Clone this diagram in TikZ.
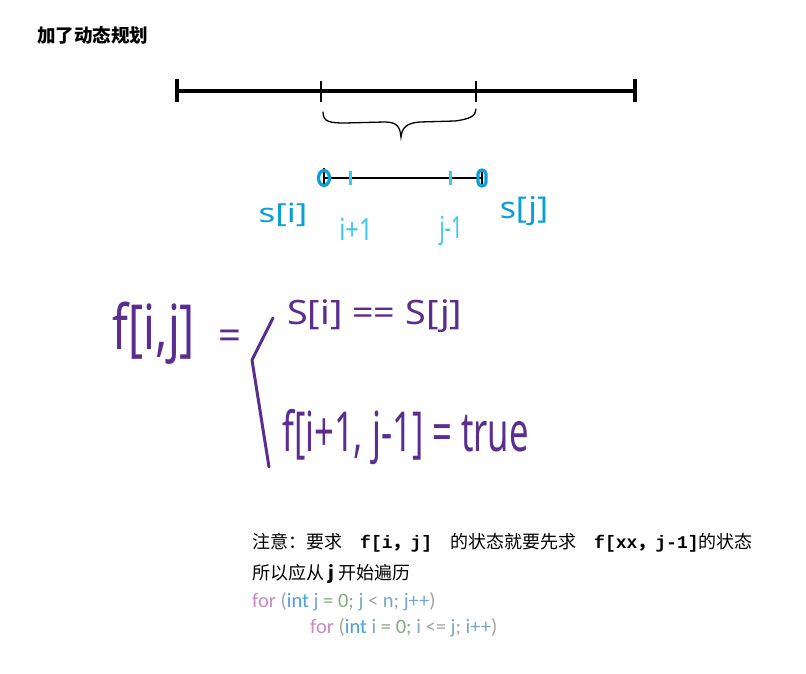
\documentclass[tikz,border=0pt]{standalone}
\usepackage{fontspec}
\usepackage{graphicx}
\setmainfont{Carlito}
\newfontfamily\cjk{Noto Sans CJK SC}
\newfontfamily\hand{Noto Sans}
\newfontfamily\codemono{Liberation Mono}
\usetikzlibrary{positioning}
\definecolor{cblue}{HTML}{0A9FD6}
\definecolor{clight}{HTML}{3FC6F2}
\definecolor{cpurple}{HTML}{5A2D8F}
\definecolor{ckey}{HTML}{C88AC3}
\definecolor{cint}{HTML}{4C9EDF}
\definecolor{cvar}{HTML}{7AA6C6}
\definecolor{cnum}{HTML}{8CA587}
\definecolor{cpunct}{HTML}{A3A3A3}
\newcommand{\kw}[1]{\textcolor{ckey}{#1}}
\newcommand{\ty}[1]{\textcolor{cint}{#1}}
\newcommand{\vr}[1]{\textcolor{cvar}{#1}}
\newcommand{\nm}[1]{\textcolor{cnum}{#1}}
\newcommand{\pc}[1]{\textcolor{cpunct}{#1}}
\newcommand{\cb}[1]{{\codemono\bfseries #1}}
\newcommand{\fwc}{{\cjk\bfseries ，}}
\newcommand{\hw}[3]{\scalebox{#1}[#2]{#3}}
\tikzset{
  every picture/.style={x=1pt, y=-1pt},
  title/.style={font=\cjk\bfseries\fontsize{18.5}{22}\selectfont, anchor=base west, inner sep=0pt},
  note/.style={font=\cjk\fontsize{18}{22}\selectfont, anchor=base west, inner sep=0pt},
  code/.style={font=\fontsize{20.5}{24}\selectfont, anchor=base west, inner sep=0pt},
  ink/.style={font=\hand\fontsize{#1}{#1}\selectfont, text=cpurple, inner sep=0pt},
  bluetext/.style={font=\hand\fontsize{#1}{#1}\selectfont, text=cblue, inner sep=0pt},
  bigtick/.style={line width=3.5pt},
  smalltick/.style={line width=1.3pt},
}
\begin{document}
\begin{tikzpicture}
  \useasboundingbox (0,0) rectangle (806,674);
  \node[title] (ttl) at (37,43) {加了动态规划};

  % whole string
  \coordinate (L) at (177,91);
  \coordinate (R) at (635,91);
  \coordinate (A) at (321,91);
  \coordinate (B) at (476,91);
  \draw[line width=3.2pt] (L) -- (R);
  \draw[bigtick] ([yshift=-11]L) -- ([yshift=12]L);
  \draw[bigtick] ([yshift=-11]R) -- ([yshift=12]R);
  \draw[smalltick] ([yshift=-11]A) -- ([yshift=10]A);
  \draw[smalltick] ([yshift=-11]B) -- ([yshift=10]B);
  \draw[line width=1.3pt, line cap=round] (323,112) .. controls (323,122) and (330,123) .. (345,123)
    -- (385,122) .. controls (398,122) and (400,128) .. (401,137)
    .. controls (402,128) and (406,123) .. (420,122) -- (455,121)
    .. controls (470,119) and (476,116) .. (476,109);

  % substring s[i..j]
  \coordinate (si) at (324,178);
  \coordinate (sj) at (482,178);
  \coordinate (ip) at (350,178);
  \coordinate (jm) at (450,178);
  \draw[line width=1.1pt] (si) -- (sj);
  \draw[line width=1.1pt] ([yshift=-8]si) -- ([yshift=10]si);
  \draw[line width=1.1pt] ([yshift=-8]sj) -- ([yshift=6]sj);
  \draw[cblue, line width=3.2pt] (si) ellipse (5.5 and 7.5);
  \draw[cblue, line width=3.2pt, rounded corners=4pt] ([shift={(-4,-8)}]sj) rectangle ([shift={(4,8)}]sj);
  \draw[clight, line width=3pt] ([yshift=-7]ip) -- ([yshift=7]ip);
  \draw[clight, line width=3pt] ([yshift=-7]jm) -- ([yshift=7]jm);
  \node[bluetext=25] (lsi) at (283,215) {\hw{1.4}{1.05}{s[i]}};
  \node[bluetext=19, text=clight] (lip) at (356,229) {\hw{1.25}{1.6}{i+1}};
  \node[bluetext=19, text=clight] (ljm) at (451,231) {\hw{1.05}{1.6}{j-1}};
  \node[bluetext=25] (lsj) at (524,211) {\hw{1.35}{1.2}{s[j]}};

  % transition
  \node[ink=46] (fij) at (154,333) {\hw{1}{1.35}{f[i,j]}};
  \node[ink=40] (eq) at (230,340) {=};
  \coordinate (b1) at (273,318);
  \coordinate (b2) at (252,360);
  \coordinate (b3) at (269,467);
  \draw[cpurple, line width=3pt, line cap=round, line join=round] (b1) -- (b2) -- (b3);
  \node[ink=32, anchor=west] (c1) at (287,316) {\hw{1.18}{1.05}{S[i] == S[j]}};
  \node[ink=38, anchor=west] (c2) at (282,437) {\hw{0.91}{1.45}{f[i+1, j-1] = true}};

  % note
  \node[note] (n1) at (252,548) {注意：要求\hspace{1em}\cb{f[i\fwc j]}\hspace{1em}的状态就要先求\hspace{1em}\cb{f[xx\fwc j-1]}的状态};
  \node[note] (n2) at (252,579) {所以应从 \textbf{j} 开始遍历};
  \node[code] (l1) at (252,607) {\kw{for} \pc{(}\ty{int} \vr{j} \nm{= 0;} \vr{j} \pc{<} \vr{n}\pc{;} \vr{j++}\pc{)}};
  \node[code] (l2) at (310,633) {\kw{for} \pc{(}\ty{int} \vr{i} \nm{= 0;} \vr{i} \pc{<=} \vr{j}\pc{;} \vr{i++}\pc{)}};
\end{tikzpicture}
\end{document}
